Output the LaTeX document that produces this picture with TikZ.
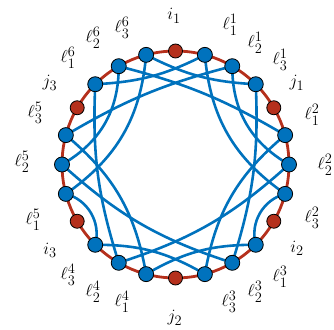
\documentclass[tikz,border=0pt]{standalone}
\usepackage{amsmath}
\pgfdeclarelayer{bg}
\pgfsetlayers{bg,main}
\definecolor{bl}{HTML}{0072BD}
\definecolor{rd}{HTML}{B5301C}
\begin{document}
\begin{tikzpicture}[x=1pt,y=1pt,
  bn/.style={circle,draw=black,line width=0.8pt,fill=bl,minimum size=15pt,inner sep=0pt},
  rn/.style={circle,draw=black,line width=0.8pt,fill=rd,minimum size=14pt,inner sep=0pt},
  bline/.style={draw=bl,line width=2.6pt},
  lab/.style={font=\fontsize{19}{22}\selectfont,inner sep=0pt}]
\useasboundingbox (-175.5,-164.5) rectangle (158.5,164.5);
\draw[rd,line width=2.8pt] (0,0) circle (113.5);
% nodes
\node[rn] (rA) at (90:113.5) {};
\node[bn] (n1) at (75:113.5) {};
\node[bn] (n2) at (60:113.5) {};
\node[bn] (n3) at (45:113.5) {};
\node[rn] (rB) at (30:113.5) {};
\node[bn] (n4) at (15:113.5) {};
\node[bn] (n5) at (0:113.5) {};
\node[bn] (n6) at (-15:113.5) {};
\node[rn] (rC) at (-30:113.5) {};
\node[bn] (n7) at (-45:113.5) {};
\node[bn] (n8) at (-60:113.5) {};
\node[bn] (n9) at (-75:113.5) {};
\node[rn] (rD) at (-90:113.5) {};
\node[bn] (n10) at (-105:113.5) {};
\node[bn] (n11) at (-120:113.5) {};
\node[bn] (n12) at (-135:113.5) {};
\node[rn] (rE) at (-150:113.5) {};
\node[bn] (n13) at (-165:113.5) {};
\node[bn] (n14) at (180:113.5) {};
\node[bn] (n15) at (165:113.5) {};
\node[rn] (rF) at (150:113.5) {};
\node[bn] (n16) at (135:113.5) {};
\node[bn] (n17) at (120:113.5) {};
\node[bn] (n18) at (105:113.5) {};
% edges (travel clockwise: bend left = outward, bend right = inward)
\begin{pgfonlayer}{bg}
\draw[bline] (n18.center) to[bend right=12] (n3.center);
\draw[bline] (n16.center) to[bend right=12] (n1.center);
\draw[bline] (n17.center) to[bend left=8] (n4.center);
\draw[bline] (n15.center) to[bend left=8] (n2.center);
\draw[bline] (n13.center) to[bend right=25] (n18.center);
\draw[bline] (n1.center) to[bend right=25] (n6.center);
\draw[bline] (n6.center) to[bend right=45] (n7.center);
\draw[bline] (n12.center) to[bend right=45] (n13.center);
\draw[bline] (n7.center) to[bend right=15] (n10.center);
\draw[bline] (n9.center) to[bend right=15] (n12.center);
\draw[bline] (n5.center) to[bend left=12] (n11.center);
\draw[bline] (n8.center) to[bend left=12] (n14.center);
\draw[bline] (n14.center) to[bend right=30] (n17.center);
\draw[bline] (n2.center) to[bend right=30] (n5.center);
\draw[bline] (n11.center) to[bend left=10] (n16.center);
\draw[bline] (n3.center) to[bend left=10] (n8.center);
\draw[bline] (n10.center) to[bend right=20] (n15.center);
\draw[bline] (n4.center) to[bend right=20] (n9.center);
\end{pgfonlayer}
% labels
\node[lab] (Li1) at (-1.5,148.5) {$i_1$};
\node[lab] (L11) at (54.5,139.5) {$\ell^1_1$};
\node[lab] (L21) at (79.5,121.5) {$\ell^1_2$};
\node[lab] (L31) at (104.5,104.5) {$\ell^1_3$};
\node[lab] (Lj1) at (121.5,81.5) {$j_1$};
\node[lab] (L12) at (136.5,49.5) {$\ell^2_1$};
\node[lab] (L22) at (149.5,-0.5) {$\ell^2_2$};
\node[lab] (L32) at (136.5,-53.5) {$\ell^2_3$};
\node[lab] (Li2) at (121.5,-83.5) {$i_2$};
\node[lab] (L13) at (104.5,-112.5) {$\ell^3_1$};
\node[lab] (L23) at (79.5,-127.5) {$\ell^3_2$};
\node[lab] (L33) at (53.5,-137.5) {$\ell^3_3$};
\node[lab] (Lj2) at (-0.5,-153.5) {$j_2$};
\node[lab] (L14) at (-53.5,-137.5) {$\ell^4_1$};
\node[lab] (L24) at (-82.5,-127.5) {$\ell^4_2$};
\node[lab] (L34) at (-107.5,-110.5) {$\ell^4_3$};
\node[lab] (Li3) at (-125.5,-85.5) {$i_3$};
\node[lab] (L15) at (-142.5,-55.5) {$\ell^5_1$};
\node[lab] (L25) at (-153.5,2.5) {$\ell^5_2$};
\node[lab] (L35) at (-140.5,51.5) {$\ell^5_3$};
\node[lab] (Lj3) at (-125.5,81.5) {$j_3$};
\node[lab] (L16) at (-107.5,106.5) {$\ell^6_1$};
\node[lab] (L26) at (-82.5,126.5) {$\ell^6_2$};
\node[lab] (L36) at (-53.5,136.5) {$\ell^6_3$};
\end{tikzpicture}
\end{document}
